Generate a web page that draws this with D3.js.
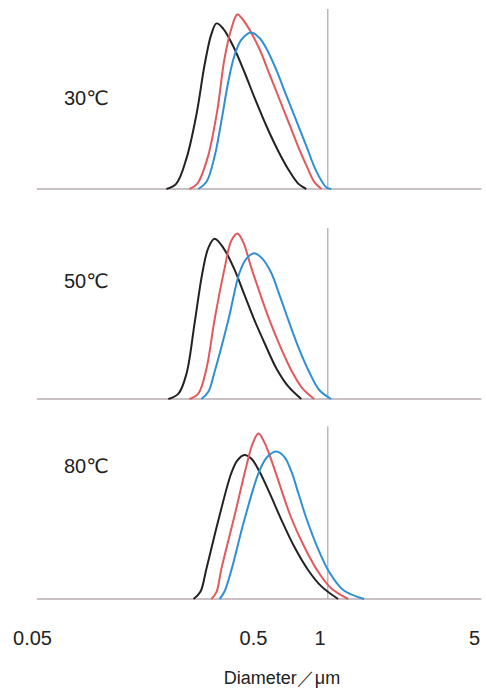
<!DOCTYPE html>
<html>
<head>
<meta charset="utf-8">
<script src="https://cdn.jsdelivr.net/npm/d3@7"></script>
<style>
  body { margin: 0; background: #fff; }
  text { font-family: "Liberation Sans", Arial, "DejaVu Sans", sans-serif; fill: #222; }
</style>
</head>
<body>
<div id="chart"></div>
<script>
// data: [diameter (um), relative frequency %]
const panelLabels = ["30℃", "50℃", "80℃"]
const tickValues = [0.05, 0.5, 1, 5]
const axisExtent = [0.0526, 5.4]
const refDiameter = 1.09
const refTop = [100, 95, 96]

const p30Black = [[0.203,0],[0.225,3],[0.250,17],[0.278,42],[0.302,69],[0.324,86],[0.342,92],[0.367,89],[0.408,79],[0.457,65],[0.507,51],[0.575,35],[0.651,21],[0.730,10],[0.801,3],[0.871,0]]
const p30Red = [[0.258,0],[0.280,3],[0.311,17],[0.345,44],[0.371,72],[0.399,89],[0.425,97],[0.457,93],[0.529,79],[0.593,64],[0.658,50],[0.730,36],[0.810,22],[0.880,12],[0.946,4],[1.02,0]]
const p30Blue = [[0.283,0],[0.308,4],[0.335,18],[0.360,38],[0.387,60],[0.412,74],[0.443,83],[0.491,87],[0.534,84],[0.575,78],[0.638,66],[0.707,52],[0.785,38],[0.871,24],[0.966,10],[1.072,1],[1.13,0]]

const p50Black = [[0.207,0],[0.230,3],[0.250,14],[0.272,42],[0.295,70],[0.314,84],[0.335,89],[0.367,84],[0.412,72],[0.457,58],[0.507,44],[0.569,30],[0.638,17],[0.722,7],[0.827,0]]
const p50Red = [[0.258,0],[0.283,3],[0.308,17],[0.335,44],[0.371,72],[0.399,88],[0.425,92],[0.452,87],[0.491,73],[0.540,58],[0.593,44],[0.665,29],[0.745,16],[0.835,6],[0.946,0]]
const p50Blue = [[0.292,0],[0.314,4],[0.335,15],[0.387,44],[0.434,70],[0.467,78],[0.507,81],[0.551,78],[0.605,70],[0.658,58],[0.722,44],[0.801,29],[0.898,15],[0.997,5],[1.129,0]]

const p80Black = [[0.269,0],[0.289,4],[0.308,17],[0.349,44],[0.399,70],[0.425,77],[0.457,80],[0.491,78],[0.534,71],[0.599,58],[0.672,44],[0.769,29],[0.889,16],[1.02,7],[1.214,0]]
const p80Red = [[0.324,0],[0.342,4],[0.360,17],[0.412,46],[0.467,74],[0.497,86],[0.529,92],[0.563,87],[0.618,74],[0.679,59],[0.745,45],[0.853,29],[0.987,15],[1.129,6],[1.348,0]]
const p80Blue = [[0.353,0],[0.371,4],[0.399,16],[0.457,44],[0.534,71],[0.581,79],[0.638,82],[0.693,79],[0.745,71],[0.801,59],[0.871,45],[0.976,29],[1.106,15],[1.279,5],[1.592,0]]

const panelSeries = [
  [p30Black, p30Red, p30Blue],
  [p50Black, p50Red, p50Blue],
  [p80Black, p80Red, p80Blue]
]
const seriesColors = ["#222222", "#e05a5c", "#2f8fd2"]

const width = 486
const height = 690
const baselines = [189, 399, 599]
const panelHeight = 180

const svg = d3.select("#chart").append("svg")
    .attr("width", width)
    .attr("height", height)

// log scale for diameter
const xScale = d3.scaleLog()
    .domain([0.05, 5])
    .range([32, 474])

panelSeries.forEach((series, i) => {
  const yScale = d3.scaleLinear()
      .domain([0, 100])
      .range([baselines[i], baselines[i] - panelHeight])

  const g = svg.append("g").attr("class", "panel")

  // baseline
  g.append("line")
      .attr("x1", xScale(axisExtent[0]))
      .attr("x2", xScale(axisExtent[1]))
      .attr("y1", yScale(0))
      .attr("y2", yScale(0))
      .attr("stroke", "#b9adb3")
      .attr("stroke-width", 1.5)

  // reference line near 1 um
  g.append("line")
      .attr("x1", xScale(refDiameter))
      .attr("x2", xScale(refDiameter))
      .attr("y1", yScale(0))
      .attr("y2", yScale(refTop[i]))
      .attr("stroke", "#a8a8a8")
      .attr("stroke-width", 1.2)

  const line = d3.line()
      .x(d => xScale(d[0]))
      .y(d => Math.min(yScale(0), yScale(d[1])))
      .curve(d3.curveCatmullRom.alpha(0.5))

  g.selectAll("path.curve")
      .data(series)
      .enter()
      .append("path")
      .attr("class", "curve")
      .attr("d", line)
      .attr("fill", "none")
      .attr("stroke", (d, j) => seriesColors[j])
      .attr("stroke-width", 2)

  g.append("text")
      .attr("x", 64)
      .attr("y", yScale(0) - [84, 111, 126][i])
      .attr("font-size", 20)
      .text(panelLabels[i])
})

// x axis labels
const xAxis = d3.axisBottom(xScale)
    .tickValues(tickValues)
    .tickFormat(d3.format("~g"))
    .tickSize(0)
    .tickPadding(0)

svg.append("g")
    .attr("class", "x-axis")
    .attr("transform", "translate(0, 631)")
    .call(xAxis)
    .call(g => g.select(".domain").remove())
    .selectAll("text")
    .attr("font-size", 20)
    .style("font-family", "'Liberation Sans', Arial, sans-serif")
    .attr("fill", "#222")

svg.append("text")
    .attr("x", 282)
    .attr("y", 684)
    .attr("text-anchor", "middle")
    .attr("font-size", 18)
    .text("Diameter／μm")
</script>
</body>
</html>
